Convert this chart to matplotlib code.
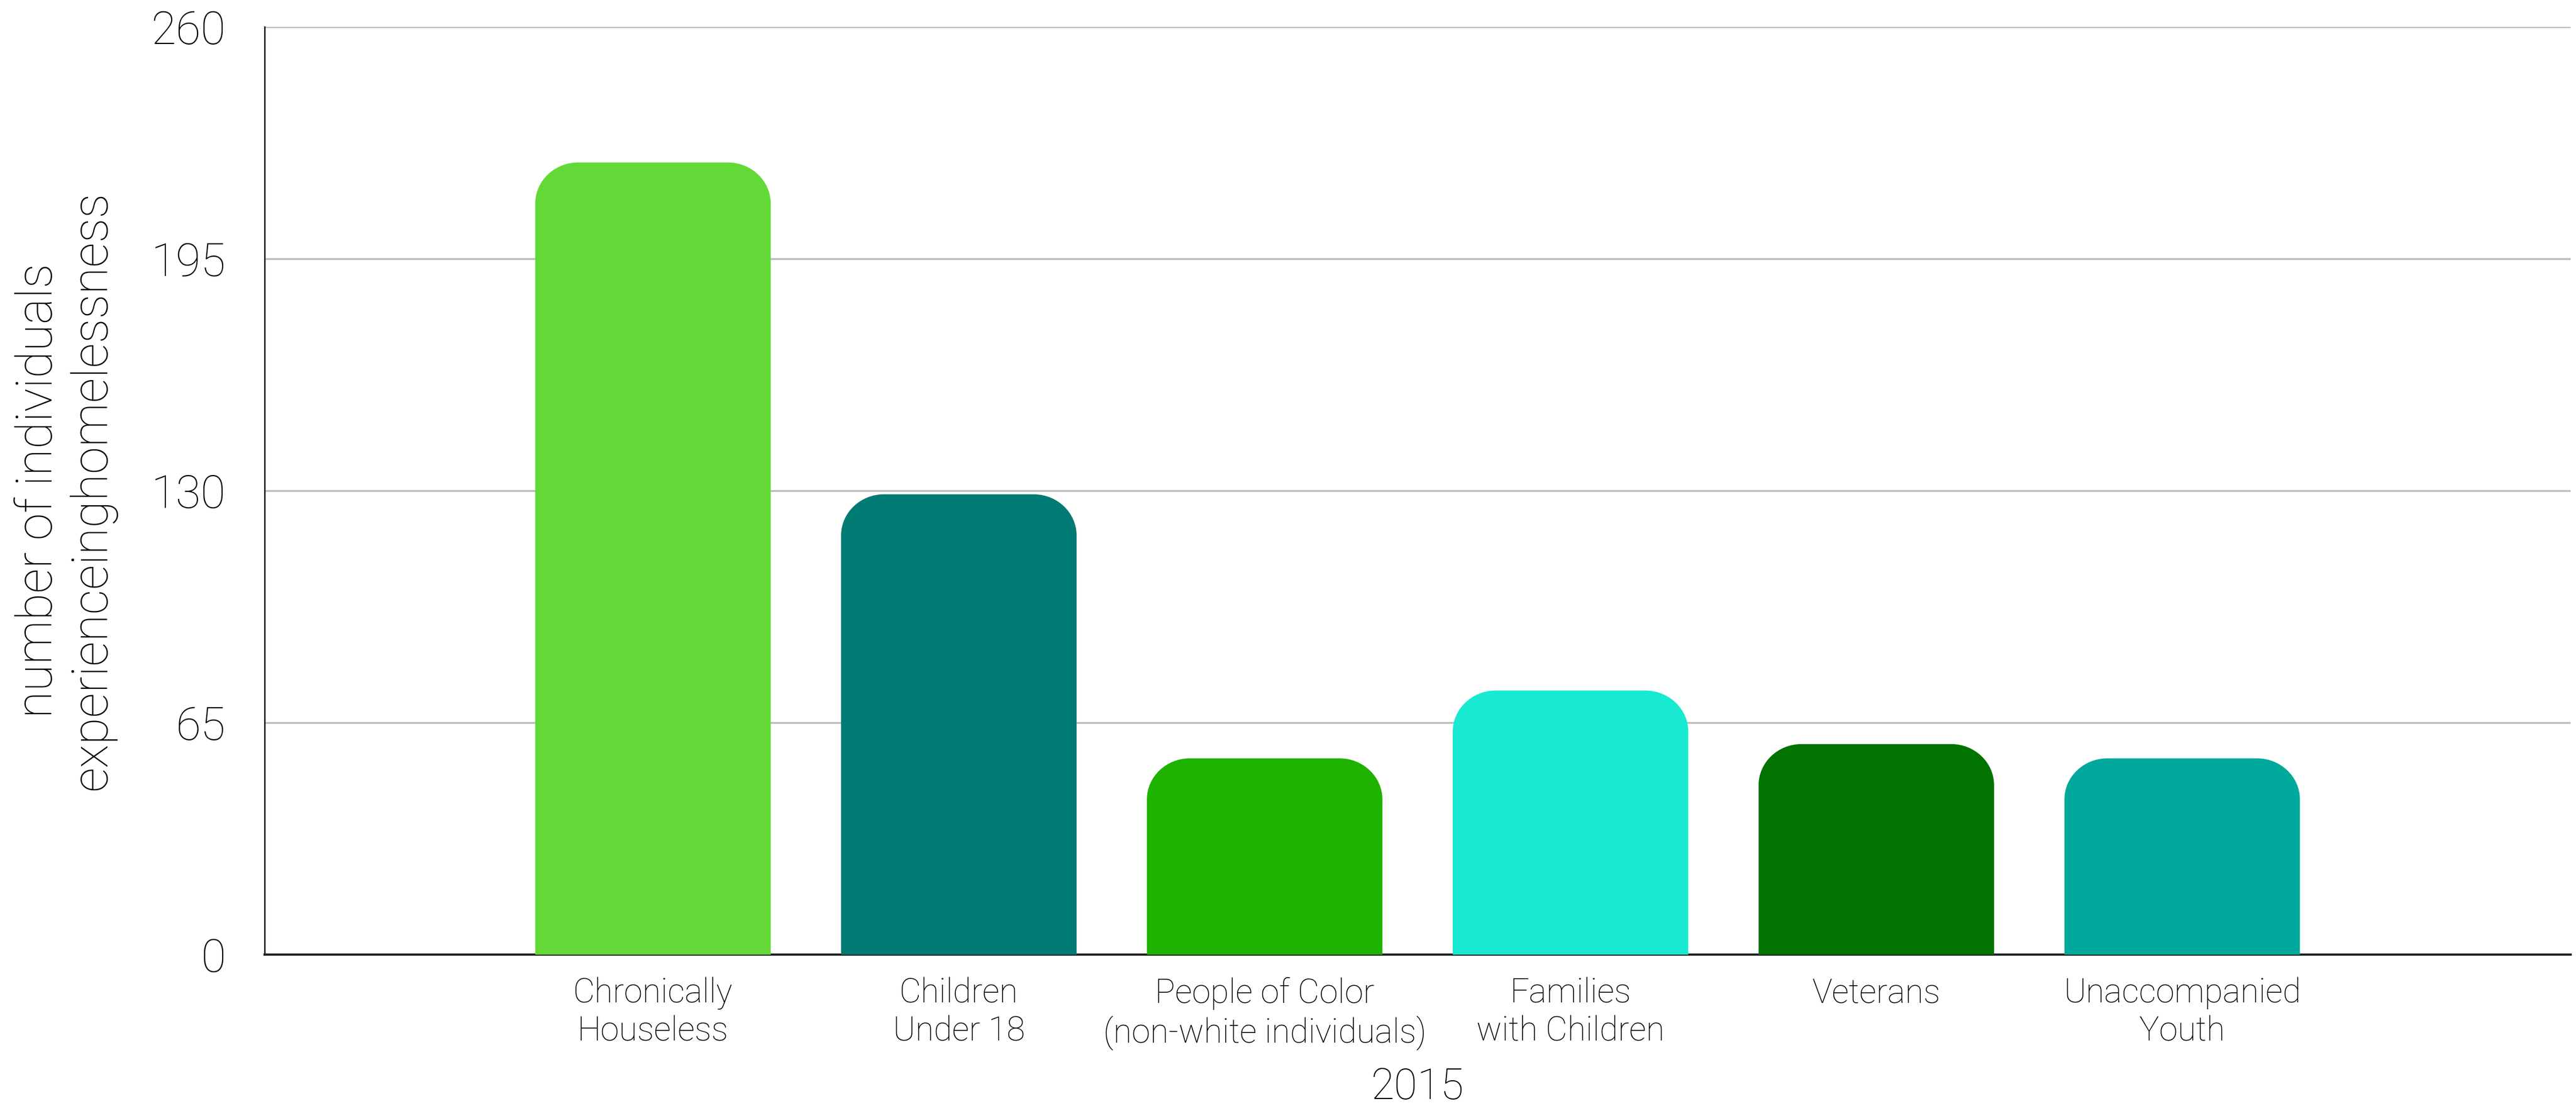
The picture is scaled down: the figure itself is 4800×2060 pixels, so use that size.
import matplotlib.pyplot as plt
from matplotlib.path import Path
from matplotlib.patches import PathPatch

plt.rcParams['font.family'] = ['Roboto', 'DejaVu Sans']
plt.rcParams['font.weight'] = 'light'

categories = ["Chronically\nHouseless", "Children\nUnder 18", "People of Color\n(non-white individuals)",
              "Families\nwith Children", "Veterans", "Unaccompanied\nYouth"]
values = [222, 129, 55, 74, 59, 55]
colors = ['#63D937', '#007B73', '#1EB300', '#17EAD0', '#007300', '#00A99C']
yticks = [0, 65, 130, 195, 260]

fig = plt.figure(figsize=(48, 20.6), dpi=100)
ax = fig.add_axes([0.1027, 0.1369, 0.8952, 0.8388])

x = list(range(len(values)))
bars = ax.bar(x, values, width=0.77, color=colors)

ax.set_xlim(-1.27, 6.27)
ax.set_ylim(0, 260)

# swap plain bars for top-rounded ones
rx, ry = 0.14, 11.5
k = 0.55
for b in bars:
    x0, y0 = b.get_x(), b.get_y()
    x1, y1 = x0 + b.get_width(), y0 + b.get_height()
    verts = [(x0, y0), (x0, y1 - ry),
             (x0, y1 - ry + k * ry), (x0 + rx - k * rx, y1), (x0 + rx, y1),
             (x1 - rx, y1),
             (x1 - rx + k * rx, y1), (x1, y1 - ry + k * ry), (x1, y1 - ry),
             (x1, y0), (x0, y0)]
    codes = [Path.MOVETO, Path.LINETO,
             Path.CURVE4, Path.CURVE4, Path.CURVE4,
             Path.LINETO,
             Path.CURVE4, Path.CURVE4, Path.CURVE4,
             Path.LINETO, Path.CLOSEPOLY]
    ax.add_patch(PathPatch(Path(verts, codes), facecolor=b.get_facecolor(), edgecolor='none', zorder=3))
    b.set_visible(False)

ax.set_yticks(yticks)
ax.set_yticklabels([str(t) for t in yticks], fontsize=61)
ax.set_xticks(x)
ax.set_xticklabels(categories, fontsize=45, linespacing=1.22)
ax.tick_params(axis='y', length=0, pad=52)
ax.tick_params(axis='x', length=0, pad=30)

ax.grid(axis='y', color='#BBBBBB', lw=2.5, zorder=0)
ax.set_axisbelow(True)
for s in ['top', 'right']:
    ax.spines[s].set_visible(False)
ax.spines['left'].set_color('#222222')
ax.spines['left'].set_linewidth(2)
ax.spines['bottom'].set_color('#222222')
ax.spines['bottom'].set_linewidth(3)

ax.set_xlabel("2015", fontsize=57, fontweight='light', labelpad=22)
fig.text(0.0255, 0.5563, "number of individuals\nexperienceinghomelessness", rotation=90,
         ha='center', va='center', fontsize=66, linespacing=1.15)

plt.savefig("out.png", dpi=100)
